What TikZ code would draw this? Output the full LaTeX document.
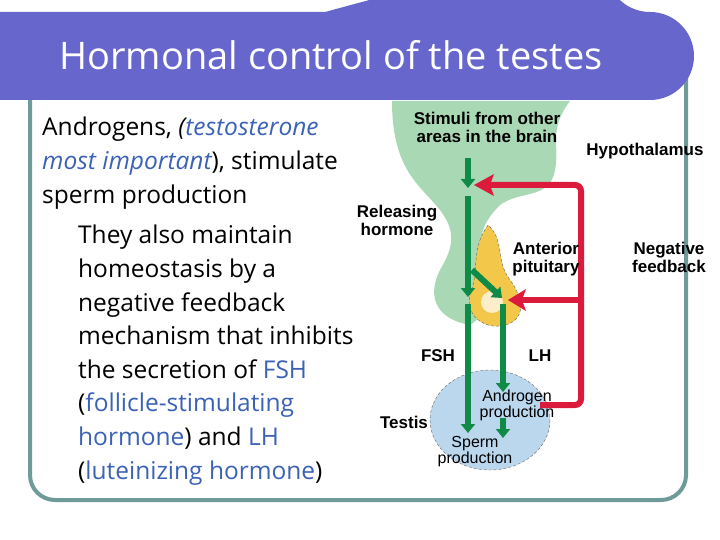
\documentclass[tikz,border=0pt]{standalone}
\usepackage{fontspec}
\setmainfont{Open Sans}
\newfontfamily\labfont{Liberation Sans}
\usetikzlibrary{positioning,arrows.meta}
\definecolor{banner}{HTML}{6666CC}
\definecolor{frame}{HTML}{6F9A9A}
\definecolor{hilite}{HTML}{3B62B5}
\definecolor{hypo}{HTML}{A9D8B4}
\definecolor{pit}{HTML}{F2C74A}
\definecolor{testis}{HTML}{BBD7EE}
\definecolor{grn}{HTML}{108A47}
\definecolor{fb}{HTML}{DC1A3C}
\tikzset{
  lab/.style={font=\labfont\bfseries\fontsize{17}{18}\selectfont, align=center, inner sep=0pt},
  labn/.style={font=\labfont\fontsize{16}{16}\selectfont, align=center, inner sep=0pt},
  para/.style={font=\fontsize{24.5}{33.6}\selectfont, align=left, anchor=north west, inner sep=0pt},
  garrow/.style={grn, line width=6pt, -{Triangle[width=14pt,length=9pt]}},
  farrow/.style={fb, line width=6pt, rounded corners=6pt},
}
\newcommand{\hl}[1]{\textcolor{hilite}{#1}}
\begin{document}
\begin{tikzpicture}[x=1pt,y=-1pt]
\useasboundingbox (0,0) rectangle (720,540);
% frame and banner
\draw[frame, line width=4pt, rounded corners=25pt] (30,40) rectangle (686,500);
\fill[white] (0,0) rectangle (690,30);
\fill[banner] (0,12) -- (650,12) arc (-90:90:-44) -- (0,100) -- cycle;
\fill[banner] (0,12) rectangle (650,100);
\fill[banner] (650,56) circle (44);
\node[text=white, font=\fontsize{38}{42}\selectfont] (title) at (331,55) {Hormonal control of the testes};

% left text
\node[para] (intro) at (42,117) {Androgens, \textit{(\hl{testosterone}}\\
  \textit{\hl{most important}}), stimulate\\ sperm production};
\node[para] (feedback) at (78,225) {They also maintain\\ homeostasis by a\\
  negative feedback\\ mechanism that inhibits\\ the secretion of \hl{FSH}\\
  (\hl{follicle-stimulating}\\ \hl{hormone}) and \hl{LH}\\ (\hl{luteinizing hormone})};

% organs
\fill[hypo] (392,101) -- (570,101) .. controls (548,130) and (560,145) .. (555,170)
  .. controls (550,200) and (520,190) .. (500,205)
  .. controls (480,225) and (478,240) .. (485,260)
  .. controls (495,300) and (480,320) .. (470,325)
  .. controls (440,320) and (425,300) .. (440,270)
  .. controls (455,245) and (455,230) .. (440,210)
  .. controls (420,185) and (392,170) .. cycle;
\fill[pit, draw=black!60, densely dashed, thin] (488,225) .. controls (470,250) and (480,270) .. (470,295)
  .. controls (465,320) and (490,330) .. (505,325)
  .. controls (525,320) and (525,300) .. (510,280)
  .. controls (495,260) and (505,240) .. cycle;
\fill[white, opacity=.7] (492,302) circle (11);
\fill[testis, draw=black!60, densely dashed, thin] (490,420) ellipse (60 and 50);

% hormone path
\draw[garrow] (468,158) -- (468,188);
\draw[garrow] (468,196) -- (468,297);
\draw[garrow] (472,270) -- (502,298);
\draw[garrow] (468,304) -- (468,433);
\draw[garrow] (503,304) -- (503,392);
\draw[garrow] (503,418) -- (503,438);

% negative feedback
\coordinate (fbstart) at (540,405);
\coordinate (hyptip) at (474,185);
\coordinate (pittip) at (508,300);
\draw[farrow] (fbstart) -- (581,405) -- (581,185) -- (490,185);
\draw[farrow] (581,300) -- (520,300);
\fill[fb] (hyptip) -- (494,174) -- (490,185) -- (494,196) -- cycle;
\fill[fb] (pittip) -- (526,289) -- (522,300) -- (526,311) -- cycle;

% labels
\node[lab] (stimuli) at (487,127) {Stimuli from other\\ areas in the brain};
\node[lab] (hypothal) at (645,151) {Hypothalamus};
\node[lab] (releasing) at (397,220) {Releasing\\ hormone};
\node[lab] (anterior) at (546,259) {Anterior\\ pituitary};
\node[lab] (negfb) at (669,257) {Negative\\ feedback};
\node[lab] (fsh) at (438,356) {FSH};
\node[lab] (lh) at (540,356) {LH};
\node[labn] (androgen) at (517,405) {Androgen\\ production};
\node[lab] (testislab) at (404,422) {Testis};
\node[labn] (sperm) at (475,452) {Sperm\\ production};
\end{tikzpicture}
\end{document}
